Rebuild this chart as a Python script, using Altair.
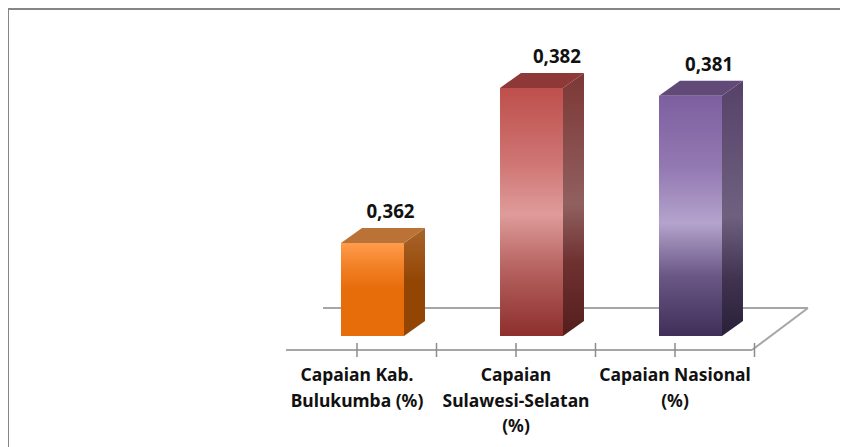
import altair as alt
import pandas as pd

categories = ["Capaian Kab.\nBulukumba (%)", "Capaian\nSulawesi-Selatan\n(%)", "Capaian Nasional\n(%)"]
values = [0.362, 0.382, 0.381]
value_labels = ["0,362", "0,382", "0,381"]
label_shift = [0.113, 0.16, 0.117]
base = 0.35

front_stops = [
    [("#FF9C4C", 0), ("#F28026", 0.25), ("#E76C0A", 0.5), ("#E76C0A", 1)],
    [("#BE4F4C", 0), ("#CF7573", 0.3), ("#DE9C9A", 0.51), ("#B76462", 0.72), ("#8D2F2D", 1)],
    [("#7D5FA0", 0), ("#9379B2", 0.3), ("#B4A3CC", 0.53), ("#6A5785", 0.75), ("#3F2F58", 1)],
]
side_stops = [
    [("#A8642C", 0), ("#934603", 0.5), ("#934603", 1)],
    [("#7C3735", 0), ("#90605F", 0.5), ("#6E3130", 0.72), ("#541E1D", 1)],
    [("#564268", 0), ("#6F6080", 0.53), ("#3F3350", 0.78), ("#2A2038", 1)],
]
top_colors = ["#BA7236", "#8E3937", "#624A78"]

# axis units per page pixel
PX = 1 / 159
PY = 1 / 7750
half = 31.5 * PX
dx = 21 * PX
dv = 15 * PY

x_scale = alt.Scale(domain=[-2.2925, 2.9403], nice=False, zero=False)
y_scale = alt.Scale(domain=[0.33568, 0.39232], nice=False, zero=False)
X = alt.X("x:Q", scale=x_scale, axis=None)
Y = alt.Y("y:Q", scale=y_scale, axis=None)


def grad(stops):
    return alt.LinearGradient(
        gradient="linear", x1=0, y1=0, x2=0, y2=1,
        stops=[alt.GradientStop(color=c, offset=o) for c, o in stops],
    )


def line(df, color="#A6A6A6", w=2):
    return alt.Chart(pd.DataFrame(df)).mark_line(color=color, strokeWidth=w).encode(x=X, y=Y)


front_y = base - 14 * PY
back_y = base + 28 * PY
left_front = -86.5 * PX
right_front = 379.5 * PX
left_back = -49.5 * PX
right_back = 435.5 * PX

layers = []
layers.append(line({"x": [left_back, right_back], "y": [back_y, back_y]}))
layers.append(line({"x": [right_back, right_front], "y": [back_y, front_y]}))
layers.append(line({"x": [left_front, right_front], "y": [front_y, front_y]}))

tick_xs = [i * 0.5 - 15.5 * PX for i in range(6)]
for t in tick_xs:
    layers.append(line({"x": [t, t], "y": [front_y - 7 * PY, front_y + 7 * PY]}, color="#8C8C8C", w=1.5))

for i, v in enumerate(values):
    x0, x1 = i - half, i + half
    layers.append(
        alt.Chart(pd.DataFrame({"x": [x1, x1 + dx], "y": [v, v + dv], "y2": [base, base + dv]}))
        .mark_area(color=grad(side_stops[i]))
        .encode(x=X, y=Y, y2="y2:Q")
    )
    layers.append(
        alt.Chart(pd.DataFrame({
            "x": [x0, x0 + dx, x1, x1 + dx],
            "y": [v, v + dv, v + dv, v + dv],
            "y2": [v, v, v, v + dv],
        }))
        .mark_area(color=top_colors[i])
        .encode(x=X, y=Y, y2="y2:Q")
    )
    layers.append(
        alt.Chart(pd.DataFrame({"x": [x0], "x2": [x1], "y": [v], "y2": [base]}))
        .mark_rect(color=grad(front_stops[i]))
        .encode(x=X, x2="x2:Q", y=Y, y2="y2:Q")
    )

layers.append(
    alt.Chart(pd.DataFrame({
        "x": [i + s for i, s in enumerate(label_shift)],
        "y": [v + 30.5 * PY for v in values],
        "t": value_labels,
    }))
    .mark_text(font="Noto Sans", fontWeight="bold", fontSize=18.7, color="#111111")
    .encode(x=X, y=Y, text="t:N")
)
layers.append(
    alt.Chart(pd.DataFrame({
        "x": [i - 15.5 * PX for i in range(3)],
        "y": [front_y - 17.3 * PY] * 3,
        "t": categories,
    }))
    .mark_text(font="Noto Sans", fontWeight="bold", fontSize=17.5, color="#111111",
               baseline="top", align="center", lineBreak="\n", lineHeight=25.5)
    .encode(x=X, y=Y, text="t:N")
)

frame = pd.DataFrame({"a": [0]})
layers.append(
    alt.Chart(frame).mark_rule(color="#868686", strokeWidth=2)
    .encode(x=alt.value(0), x2=alt.value(832), y=alt.value(1))
)
layers.append(
    alt.Chart(frame).mark_rule(color="#868686", strokeWidth=2)
    .encode(x=alt.value(0), y=alt.value(0), y2=alt.value(439))
)

chart = (
    alt.layer(*layers)
    .properties(width=832, height=439, padding=0, autosize=alt.AutoSizeParams(type="none"))
    .configure_view(stroke=None)
)
chart.save("out.html", embed_options={"renderer": "svg", "actions": False})
